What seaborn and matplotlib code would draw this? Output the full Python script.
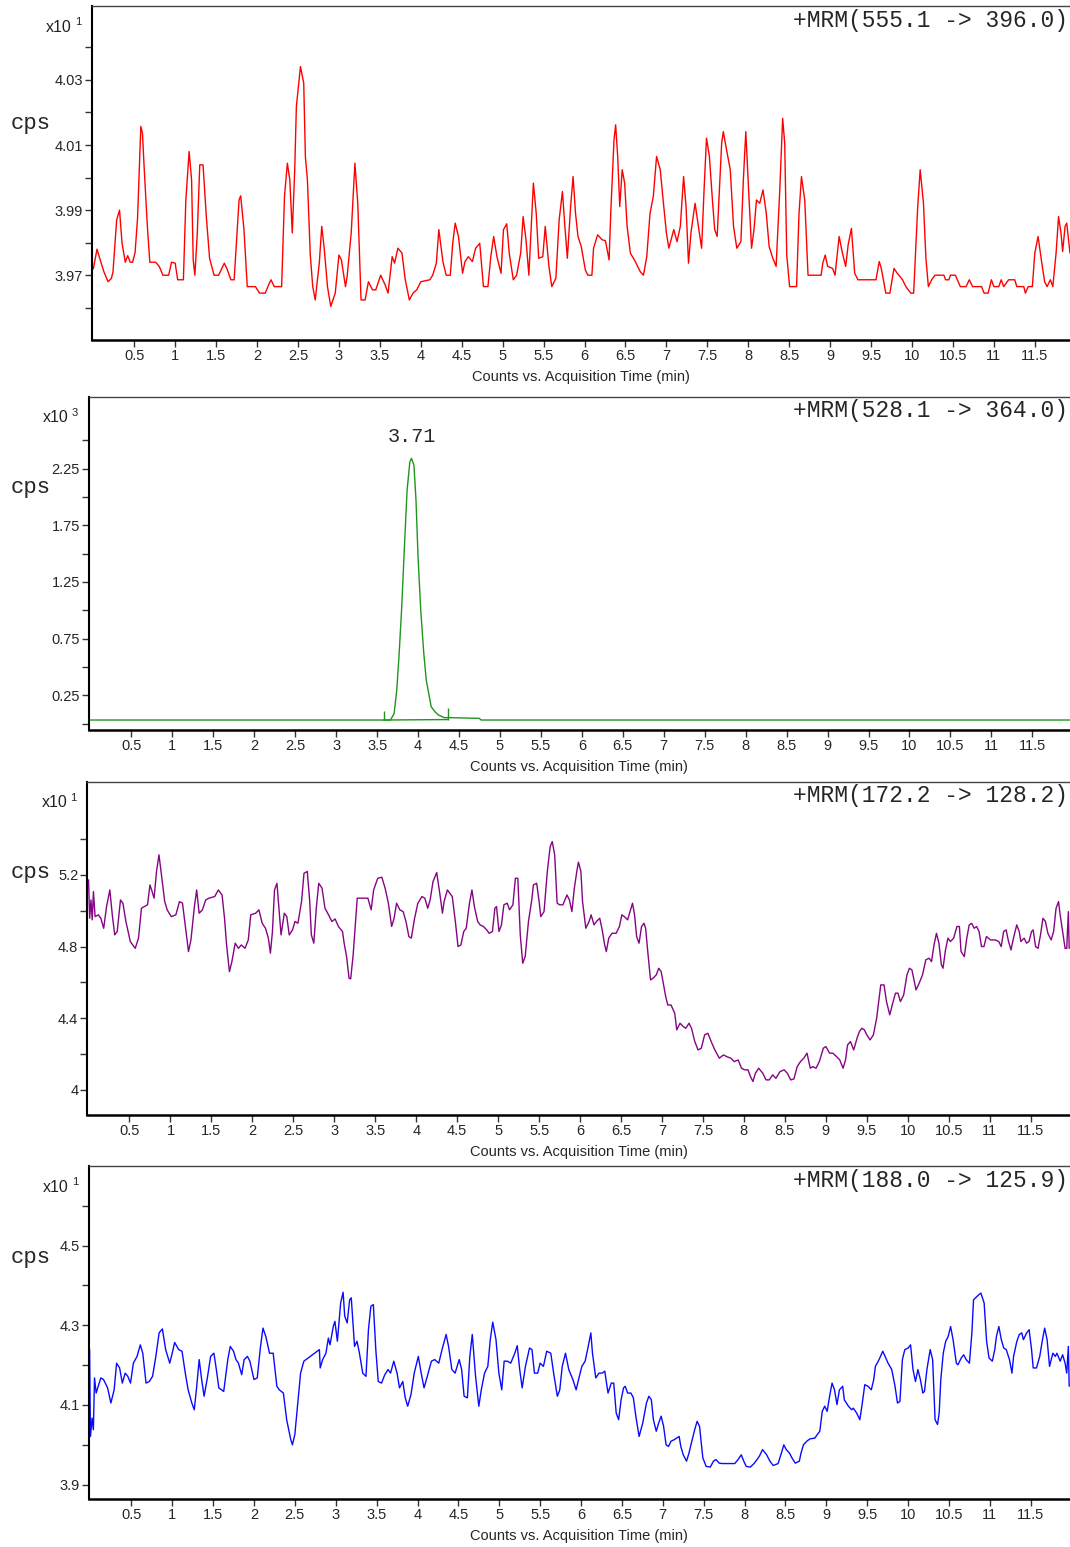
import matplotlib
matplotlib.use("Agg")
import matplotlib.pyplot as plt
import pandas as pd
import seaborn as sns

## Data: (acquisition time in min, counts in axis units)

trace_555 = [
    (0.00, 3.972), (0.045, 3.978), (0.08, 3.975), (0.13, 3.971), (0.18, 3.968), (0.22, 3.969), (0.24, 3.971),
    (0.285, 3.987), (0.32, 3.990), (0.35, 3.980), (0.39, 3.974), (0.42, 3.976), (0.45, 3.974), (0.48, 3.974),
    (0.51, 3.977), (0.54, 3.9875), (0.58, 4.0157), (0.60, 4.0136), (0.62, 4.0034), (0.66, 3.985), (0.69, 3.974),
    (0.76, 3.974), (0.805, 3.9727), (0.85, 3.970), (0.92, 3.970), (0.955, 3.974), (1.00, 3.9737), (1.03, 3.9686),
    (1.10, 3.9686), (1.13, 3.9931), (1.17, 4.008), (1.20, 3.9993), (1.22, 3.9747), (1.24, 3.970), (1.27, 3.983),
    (1.30, 4.0039), (1.34, 4.0039), (1.38, 3.988), (1.42, 3.9752), (1.475, 3.970), (1.53, 3.970), (1.60, 3.9737),
    (1.63, 3.9721), (1.68, 3.9686), (1.72, 3.9686), (1.78, 3.9931), (1.80, 3.9944), (1.84, 3.984), (1.88, 3.9665),
    (1.98, 3.9665), (2.03, 3.9645), (2.10, 3.9645), (2.14, 3.967), (2.17, 3.9686), (2.21, 3.9665), (2.30, 3.9665),
    (2.335, 3.9942), (2.37, 4.0044), (2.40, 3.9993), (2.43, 3.983), (2.46, 4.0024), (2.48, 4.0218), (2.53, 4.0341),
    (2.57, 4.029), (2.59, 4.0065), (2.615, 3.9993), (2.65, 3.9762), (2.68, 3.9665), (2.71, 3.9624), (2.76, 3.9737),
    (2.79, 3.985), (2.82, 3.9783), (2.86, 3.9665), (2.90, 3.9604), (2.955, 3.9645), (3.00, 3.9762), (3.03, 3.9747),
    (3.08, 3.9665), (3.10, 3.9696), (3.15, 3.983), (3.195, 4.0044), (3.23, 3.9921), (3.27, 3.9624), (3.32, 3.9624),
    (3.36, 3.968), (3.41, 3.9655), (3.45, 3.9655), (3.51, 3.970), (3.565, 3.967), (3.60, 3.9645), (3.65, 3.9757),
    (3.68, 3.9737), (3.72, 3.9783), (3.77, 3.9768), (3.81, 3.9686), (3.86, 3.9624), (3.905, 3.9645), (3.95, 3.9655),
    (4.00, 3.968), (4.11, 3.9686), (4.145, 3.970), (4.19, 3.9737), (4.22, 3.984), (4.27, 3.9742), (4.31, 3.970),
    (4.36, 3.970), (4.39, 3.9798), (4.42, 3.986), (4.46, 3.9819), (4.51, 3.9706), (4.54, 3.9742), (4.58, 3.9757),
    (4.63, 3.9742), (4.67, 3.9783), (4.72, 3.9798), (4.765, 3.9665), (4.82, 3.9665), (4.855, 3.9757), (4.89, 3.9819),
    (4.93, 3.9757), (4.98, 3.9706), (5.01, 3.984), (5.05, 3.9858), (5.08, 3.9768), (5.13, 3.9686), (5.17, 3.970),
    (5.22, 3.9768), (5.25, 3.988), (5.285, 3.9809), (5.32, 3.970), (5.375, 3.9983), (5.41, 3.989), (5.44, 3.9752),
    (5.49, 3.9757), (5.52, 3.985), (5.565, 3.9727), (5.60, 3.9665), (5.65, 3.9691), (5.69, 3.987), (5.73, 3.9957),
    (5.76, 3.985), (5.79, 3.9752), (5.83, 3.9911), (5.86, 4.0003), (5.89, 3.989), (5.92, 3.9819), (5.96, 3.9788),
    (6.01, 3.9716), (6.04, 3.970), (6.09, 3.970), (6.11, 3.9783), (6.16, 3.9824), (6.215, 3.9809), (6.255, 3.9806),
    (6.30, 3.9747), (6.32, 3.989), (6.36, 4.0116), (6.38, 4.0162), (6.405, 4.0065), (6.43, 3.9911), (6.46, 4.0024),
    (6.49, 3.9983), (6.52, 3.985), (6.56, 3.9768), (6.62, 3.9742), (6.68, 3.9711), (6.72, 3.970), (6.76, 3.9757),
    (6.80, 3.989), (6.84, 3.9942), (6.88, 4.0065), (6.925, 4.0024), (6.96, 3.9931), (7.00, 3.983), (7.03, 3.9783),
    (7.09, 3.984), (7.13, 3.9803), (7.17, 3.985), (7.21, 4.0003), (7.24, 3.9911), (7.27, 3.9737), (7.30, 3.983),
    (7.35, 3.9921), (7.40, 3.9834), (7.43, 3.9783), (7.46, 3.9962), (7.49, 4.0121), (7.525, 4.0065), (7.565, 3.9921),
    (7.59, 3.984), (7.62, 3.9819), (7.675, 4.0106), (7.695, 4.0141), (7.735, 4.0085), (7.78, 4.0024), (7.82, 3.985),
    (7.86, 3.9783), (7.91, 3.9803), (7.94, 3.9993), (7.97, 4.0141), (8.00, 3.9983), (8.04, 3.9783), (8.07, 3.984),
    (8.10, 3.9931), (8.14, 3.9921), (8.18, 3.9962), (8.22, 3.989), (8.255, 3.9788), (8.30, 3.9752), (8.34, 3.9727),
    (8.385, 3.9962), (8.42, 4.0182), (8.445, 4.0106), (8.47, 3.9762), (8.505, 3.9665), (8.59, 3.9665), (8.62, 3.989),
    (8.65, 4.0003), (8.69, 3.9931), (8.73, 3.970), (8.89, 3.970), (8.91, 3.9737), (8.94, 3.9762), (8.97, 3.9727),
    (9.03, 3.9721), (9.06, 3.970), (9.11, 3.9819), (9.15, 3.9768), (9.19, 3.9727), (9.22, 3.9793), (9.26, 3.9844),
    (9.30, 3.9706), (9.34, 3.9686), (9.56, 3.9686), (9.60, 3.9742), (9.625, 3.9721), (9.68, 3.9645), (9.73, 3.9645),
    (9.78, 3.9721), (9.82, 3.9706), (9.885, 3.9686), (9.925, 3.9665), (9.985, 3.9645), (10.02, 3.9645), (10.07, 3.9911),
    (10.10, 4.0024), (10.14, 3.9921), (10.17, 3.9752), (10.20, 3.9665), (10.24, 3.9686), (10.28, 3.970), (10.39, 3.970),
    (10.41, 3.9686), (10.45, 3.9686), (10.47, 3.970), (10.53, 3.970), (10.59, 3.9665), (10.66, 3.9665), (10.70, 3.9686),
    (10.74, 3.9665), (10.85, 3.9665), (10.88, 3.9645), (10.93, 3.9645), (10.97, 3.9686), (11.00, 3.9665), (11.06, 3.9665),
    (11.09, 3.9686), (11.12, 3.9665), (11.18, 3.9686), (11.255, 3.9686), (11.28, 3.9665), (11.365, 3.9665), (11.385, 3.9645),
    (11.42, 3.9665), (11.47, 3.9665), (11.50, 3.9768), (11.54, 3.9819), (11.58, 3.9747), (11.62, 3.968), (11.65, 3.9665),
    (11.69, 3.9686), (11.72, 3.9665), (11.76, 3.9768), (11.79, 3.988), (11.82, 3.983), (11.84, 3.9773), (11.87, 3.985),
    (11.89, 3.986), (11.93, 3.9768),
]

trace_528 = [
    (-0.02, 0.032), (3.58, 0.032), (3.663, 0.032), (3.708, 0.09), (3.74, 0.297), (3.767, 0.59), (3.80, 1.018),
    (3.83, 1.503), (3.866, 2.06), (3.90, 2.31), (3.92, 2.341), (3.95, 2.28), (3.975, 1.97), (4.00, 1.47),
    (4.033, 1.00), (4.07, 0.62), (4.10, 0.385), (4.13, 0.268), (4.16, 0.15), (4.205, 0.106), (4.25, 0.076),
    (4.32, 0.053), (4.385, 0.053), (4.747, 0.047), (4.77, 0.032), (11.96, 0.032),
]
baseline_528 = [(3.58, 0.032), (4.36, 0.036)]
markers_528 = [(3.58, 0.032, 0.115), (4.36, 0.036, 0.135)]
apex_528 = (3.92, 2.341)
label_528 = "3.71"

trace_172 = [
    (0.00, 5.172), (0.014, 4.958), (0.03, 5.06), (0.045, 4.949), (0.06, 5.107), (0.08, 4.967), (0.12, 4.977),
    (0.15, 4.958), (0.185, 4.902), (0.22, 5.023), (0.26, 5.116), (0.29, 4.977), (0.32, 4.865), (0.35, 4.884),
    (0.39, 5.06), (0.42, 5.042), (0.456, 4.94), (0.51, 4.828), (0.57, 4.79), (0.61, 4.847), (0.646, 5.014),
    (0.68, 5.023), (0.72, 5.033), (0.75, 5.144), (0.77, 5.116), (0.80, 5.07), (0.83, 5.219), (0.86, 5.312),
    (0.89, 5.20), (0.93, 5.051), (0.96, 5.005), (1.01, 4.967), (1.066, 4.977), (1.11, 5.051), (1.147, 5.042),
    (1.18, 4.921), (1.22, 4.772), (1.25, 4.837), (1.29, 5.014), (1.32, 5.116), (1.35, 4.986), (1.39, 5.005),
    (1.43, 5.06), (1.47, 5.07), (1.54, 5.079), (1.585, 5.116), (1.63, 5.088), (1.66, 4.958), (1.685, 4.809),
    (1.72, 4.66), (1.75, 4.716), (1.79, 4.819), (1.83, 4.79), (1.865, 4.809), (1.91, 4.79), (1.95, 4.837),
    (1.98, 4.977), (2.04, 4.986), (2.08, 5.005), (2.12, 4.93), (2.16, 4.902), (2.195, 4.847), (2.22, 4.763),
    (2.245, 4.884), (2.27, 5.116), (2.30, 5.153), (2.33, 4.977), (2.35, 4.865), (2.39, 4.986), (2.42, 4.967),
    (2.45, 4.865), (2.49, 4.893), (2.52, 4.94), (2.556, 4.93), (2.60, 5.051), (2.63, 5.209), (2.67, 5.219),
    (2.70, 5.051), (2.72, 4.865), (2.75, 4.819), (2.78, 5.014), (2.81, 5.153), (2.85, 5.126), (2.886, 5.014),
    (2.93, 4.977), (2.97, 4.94), (3.01, 4.954), (3.05, 4.912), (3.10, 4.884), (3.12, 4.819), (3.15, 4.744),
    (3.18, 4.623), (3.20, 4.62), (3.23, 4.753), (3.28, 5.07), (3.32, 5.07), (3.37, 5.07), (3.41, 5.07),
    (3.45, 5.005), (3.48, 5.116), (3.53, 5.181), (3.58, 5.187), (3.62, 5.126), (3.66, 5.042), (3.70, 4.912),
    (3.73, 4.958), (3.76, 5.042), (3.80, 5.005), (3.84, 4.995), (3.875, 4.94), (3.91, 4.856), (3.94, 4.847),
    (3.98, 4.958), (4.02, 5.042), (4.07, 5.079), (4.105, 5.07), (4.14, 5.014), (4.17, 5.06), (4.205, 5.163),
    (4.25, 5.213), (4.29, 5.088), (4.32, 4.986), (4.34, 5.051), (4.38, 5.116), (4.41, 5.098), (4.44, 5.079),
    (4.48, 4.93), (4.51, 4.80), (4.545, 4.809), (4.58, 4.884), (4.61, 4.902), (4.65, 5.042), (4.68, 5.116),
    (4.71, 5.023), (4.75, 4.94), (4.78, 4.921), (4.82, 4.912), (4.86, 4.893), (4.89, 4.874), (4.93, 4.884),
    (4.96, 5.014), (4.98, 5.023), (5.01, 4.884), (5.04, 4.921), (5.07, 5.033), (5.11, 5.042), (5.14, 5.005),
    (5.18, 5.033), (5.21, 5.181), (5.24, 5.181), (5.27, 4.865), (5.30, 4.707), (5.33, 4.744), (5.37, 4.94),
    (5.41, 5.06), (5.43, 5.144), (5.47, 5.153), (5.50, 5.051), (5.52, 4.967), (5.56, 4.995), (5.60, 5.219),
    (5.635, 5.358), (5.66, 5.386), (5.69, 5.312), (5.72, 5.042), (5.75, 5.033), (5.79, 5.033), (5.84, 5.088),
    (5.87, 5.06), (5.90, 4.995), (5.93, 5.126), (5.96, 5.219), (5.98, 5.271), (6.01, 5.219), (6.03, 5.051),
    (6.07, 4.902), (6.11, 4.94), (6.135, 4.977), (6.17, 4.921), (6.20, 4.94), (6.24, 4.958), (6.27, 4.893),
    (6.30, 4.809), (6.32, 4.772), (6.35, 4.847), (6.39, 4.874), (6.44, 4.874), (6.48, 4.912), (6.51, 4.977),
    (6.54, 4.967), (6.58, 4.949), (6.61, 4.995), (6.64, 5.042), (6.665, 4.977), (6.69, 4.856), (6.72, 4.819),
    (6.75, 4.912), (6.78, 4.93), (6.80, 4.902), (6.83, 4.753), (6.86, 4.614), (6.89, 4.623), (6.93, 4.642),
    (6.96, 4.679), (6.99, 4.66), (7.02, 4.586), (7.045, 4.521), (7.07, 4.474), (7.11, 4.474), (7.155, 4.428),
    (7.18, 4.335), (7.22, 4.372), (7.26, 4.353), (7.29, 4.344), (7.33, 4.372), (7.36, 4.344), (7.40, 4.27),
    (7.44, 4.223), (7.48, 4.233), (7.52, 4.307), (7.56, 4.316), (7.60, 4.27), (7.645, 4.223), (7.70, 4.177),
    (7.75, 4.195), (7.79, 4.186), (7.84, 4.177), (7.88, 4.158), (7.93, 4.167), (7.97, 4.121), (8.01, 4.112),
    (8.05, 4.112), (8.08, 4.074), (8.11, 4.047), (8.14, 4.093), (8.18, 4.121), (8.23, 4.093), (8.27, 4.056),
    (8.31, 4.056), (8.35, 4.084), (8.39, 4.065), (8.44, 4.102), (8.49, 4.112), (8.53, 4.093), (8.57, 4.056),
    (8.61, 4.061), (8.65, 4.13), (8.69, 4.158), (8.73, 4.177), (8.77, 4.205), (8.81, 4.121), (8.84, 4.13),
    (8.88, 4.121), (8.92, 4.158), (8.97, 4.233), (9.00, 4.242), (9.045, 4.205), (9.085, 4.205), (9.13, 4.186),
    (9.17, 4.167), (9.21, 4.121), (9.24, 4.167), (9.265, 4.251), (9.30, 4.27), (9.34, 4.223), (9.38, 4.288),
    (9.41, 4.326), (9.44, 4.344), (9.47, 4.335), (9.50, 4.307), (9.54, 4.279), (9.58, 4.307), (9.62, 4.40),
    (9.645, 4.493), (9.67, 4.586), (9.71, 4.586), (9.74, 4.493), (9.78, 4.419), (9.81, 4.474), (9.85, 4.54),
    (9.88, 4.54), (9.91, 4.493), (9.95, 4.53), (9.99, 4.642), (10.02, 4.679), (10.05, 4.67), (10.08, 4.605),
    (10.10, 4.558), (10.13, 4.586), (10.18, 4.642), (10.22, 4.726), (10.26, 4.735), (10.29, 4.716), (10.32, 4.809),
    (10.35, 4.874), (10.38, 4.819), (10.41, 4.698), (10.43, 4.679), (10.46, 4.781), (10.49, 4.847), (10.52, 4.828),
    (10.56, 4.847), (10.60, 4.912), (10.63, 4.912), (10.65, 4.772), (10.69, 4.744), (10.72, 4.847), (10.75, 4.921),
    (10.78, 4.93), (10.81, 4.902), (10.84, 4.912), (10.87, 4.884), (10.90, 4.80), (10.93, 4.80), (10.96, 4.856),
    (11.01, 4.837), (11.07, 4.837), (11.11, 4.828), (11.14, 4.80), (11.17, 4.884), (11.20, 4.893), (11.23, 4.828),
    (11.26, 4.781), (11.29, 4.847), (11.33, 4.921), (11.36, 4.884), (11.38, 4.828), (11.42, 4.847), (11.45, 4.819),
    (11.48, 4.828), (11.51, 4.884), (11.53, 4.893), (11.56, 4.80), (11.59, 4.79), (11.62, 4.865), (11.65, 4.958),
    (11.68, 4.94), (11.71, 4.874), (11.75, 4.837), (11.78, 4.884), (11.81, 5.014), (11.84, 5.051), (11.86, 4.977),
    (11.89, 4.884), (11.92, 4.79), (11.94, 4.79), (11.96, 4.995), (11.97, 4.79),
]

trace_188 = [
    (-0.01, 4.239), (0.00, 4.021), (0.02, 4.067), (0.036, 4.038), (0.05, 4.168), (0.07, 4.13), (0.095, 4.147),
    (0.127, 4.168), (0.16, 4.164), (0.21, 4.143), (0.25, 4.105), (0.29, 4.138), (0.32, 4.205), (0.357, 4.193),
    (0.39, 4.155), (0.425, 4.18), (0.457, 4.172), (0.49, 4.155), (0.525, 4.205), (0.57, 4.222), (0.61, 4.251),
    (0.64, 4.23), (0.68, 4.155), (0.72, 4.159), (0.76, 4.172), (0.80, 4.222), (0.84, 4.281), (0.88, 4.291),
    (0.92, 4.239), (0.97, 4.205), (1.00, 4.23), (1.03, 4.257), (1.08, 4.239), (1.12, 4.235), (1.16, 4.18),
    (1.195, 4.138), (1.24, 4.105), (1.27, 4.088), (1.30, 4.147), (1.33, 4.214), (1.36, 4.164), (1.39, 4.122),
    (1.43, 4.168), (1.47, 4.222), (1.51, 4.23), (1.54, 4.189), (1.57, 4.143), (1.63, 4.134), (1.68, 4.214),
    (1.71, 4.247), (1.75, 4.235), (1.78, 4.214), (1.81, 4.205), (1.85, 4.176), (1.88, 4.214), (1.92, 4.222),
    (1.95, 4.21), (2.00, 4.164), (2.04, 4.168), (2.08, 4.247), (2.11, 4.293), (2.145, 4.272), (2.19, 4.23),
    (2.235, 4.23), (2.28, 4.147), (2.31, 4.138), (2.36, 4.13), (2.40, 4.063), (2.45, 4.013), (2.47, 4.00),
    (2.50, 4.026), (2.54, 4.113), (2.57, 4.18), (2.61, 4.21), (2.80, 4.239), (2.81, 4.193), (2.84, 4.214),
    (2.88, 4.23), (2.91, 4.268), (2.93, 4.251), (2.97, 4.297), (2.99, 4.31), (3.02, 4.26), (3.06, 4.356),
    (3.09, 4.383), (3.11, 4.323), (3.14, 4.306), (3.17, 4.364), (3.19, 4.369), (3.23, 4.247), (3.26, 4.26),
    (3.29, 4.23), (3.33, 4.18), (3.37, 4.172), (3.40, 4.289), (3.43, 4.348), (3.46, 4.352), (3.49, 4.239),
    (3.52, 4.159), (3.56, 4.155), (3.60, 4.176), (3.64, 4.189), (3.67, 4.18), (3.71, 4.21), (3.75, 4.18),
    (3.78, 4.143), (3.82, 4.159), (3.85, 4.118), (3.88, 4.097), (3.92, 4.126), (3.96, 4.18), (4.01, 4.222),
    (4.045, 4.18), (4.08, 4.143), (4.12, 4.172), (4.17, 4.21), (4.21, 4.214), (4.26, 4.205), (4.30, 4.239),
    (4.35, 4.277), (4.38, 4.247), (4.42, 4.189), (4.46, 4.18), (4.51, 4.214), (4.54, 4.189), (4.57, 4.122),
    (4.61, 4.118), (4.64, 4.222), (4.67, 4.277), (4.71, 4.172), (4.75, 4.097), (4.78, 4.138), (4.82, 4.18),
    (4.86, 4.197), (4.89, 4.264), (4.92, 4.308), (4.96, 4.264), (4.995, 4.18), (5.03, 4.138), (5.06, 4.21),
    (5.10, 4.21), (5.14, 4.205), (5.19, 4.23), (5.22, 4.249), (5.25, 4.189), (5.28, 4.143), (5.32, 4.197),
    (5.37, 4.243), (5.40, 4.239), (5.43, 4.18), (5.47, 4.18), (5.50, 4.205), (5.54, 4.197), (5.58, 4.235),
    (5.63, 4.23), (5.665, 4.18), (5.71, 4.122), (5.74, 4.138), (5.77, 4.197), (5.81, 4.23), (5.85, 4.189),
    (5.90, 4.164), (5.94, 4.138), (5.97, 4.164), (6.01, 4.197), (6.05, 4.21), (6.08, 4.239), (6.12, 4.281),
    (6.14, 4.23), (6.18, 4.168), (6.22, 4.18), (6.26, 4.18), (6.29, 4.185), (6.33, 4.13), (6.37, 4.155),
    (6.40, 4.155), (6.43, 4.08), (6.46, 4.063), (6.49, 4.113), (6.52, 4.143), (6.54, 4.147), (6.57, 4.13),
    (6.61, 4.13), (6.64, 4.118), (6.67, 4.072), (6.71, 4.021), (6.755, 4.055), (6.80, 4.105), (6.83, 4.122),
    (6.86, 4.113), (6.885, 4.063), (6.92, 4.034), (6.95, 4.055), (6.98, 4.072), (7.01, 4.046), (7.04, 4.00),
    (7.07, 3.996), (7.10, 4.009), (7.14, 4.013), (7.20, 4.021), (7.22, 3.996), (7.25, 3.975), (7.29, 3.959),
    (7.32, 3.979), (7.35, 4.005), (7.39, 4.038), (7.42, 4.059), (7.45, 4.046), (7.47, 4.005), (7.49, 3.967),
    (7.53, 3.946), (7.58, 3.944), (7.62, 3.959), (7.65, 3.963), (7.69, 3.954), (7.73, 3.953), (7.88, 3.953),
    (7.92, 3.963), (7.96, 3.975), (7.99, 3.959), (8.02, 3.946), (8.07, 3.944), (8.12, 3.954), (8.18, 3.971),
    (8.22, 3.988), (8.27, 3.975), (8.31, 3.959), (8.35, 3.948), (8.41, 3.953), (8.45, 3.979), (8.48, 4.00),
    (8.51, 3.988), (8.55, 3.979), (8.58, 3.967), (8.62, 3.954), (8.67, 3.959), (8.69, 3.979), (8.72, 4.00),
    (8.76, 4.009), (8.80, 4.015), (8.86, 4.017), (8.89, 4.026), (8.92, 4.034), (8.95, 4.084), (8.98, 4.097),
    (9.01, 4.084), (9.04, 4.122), (9.07, 4.155), (9.10, 4.138), (9.13, 4.101), (9.16, 4.138), (9.20, 4.147),
    (9.22, 4.113), (9.27, 4.097), (9.31, 4.088), (9.33, 4.092), (9.37, 4.08), (9.41, 4.063), (9.44, 4.105),
    (9.47, 4.151), (9.51, 4.147), (9.55, 4.138), (9.58, 4.164), (9.60, 4.197), (9.645, 4.214), (9.69, 4.235),
    (9.71, 4.226), (9.755, 4.205), (9.80, 4.189), (9.84, 4.147), (9.87, 4.105), (9.90, 4.109), (9.93, 4.214),
    (9.96, 4.239), (10.00, 4.243), (10.03, 4.251), (10.06, 4.189), (10.09, 4.159), (10.12, 4.189), (10.15, 4.164),
    (10.18, 4.13), (10.20, 4.134), (10.23, 4.189), (10.27, 4.239), (10.30, 4.214), (10.33, 4.063), (10.36, 4.051),
    (10.38, 4.08), (10.40, 4.164), (10.43, 4.23), (10.46, 4.26), (10.49, 4.272), (10.52, 4.297), (10.55, 4.264),
    (10.59, 4.205), (10.61, 4.201), (10.65, 4.218), (10.68, 4.226), (10.71, 4.214), (10.75, 4.205), (10.78, 4.281),
    (10.80, 4.364), (10.85, 4.374), (10.89, 4.381), (10.93, 4.356), (10.96, 4.26), (10.99, 4.218), (11.03, 4.21),
    (11.06, 4.239), (11.08, 4.272), (11.11, 4.297), (11.14, 4.264), (11.17, 4.243), (11.20, 4.239), (11.24, 4.214),
    (11.27, 4.18), (11.29, 4.222), (11.33, 4.26), (11.36, 4.277), (11.39, 4.281), (11.41, 4.264), (11.45, 4.281),
    (11.48, 4.289), (11.51, 4.239), (11.53, 4.193), (11.57, 4.193), (11.61, 4.222), (11.64, 4.26), (11.67, 4.293),
    (11.70, 4.264), (11.73, 4.197), (11.77, 4.23), (11.80, 4.222), (11.82, 4.23), (11.86, 4.21), (11.89, 4.226),
    (11.92, 4.205), (11.94, 4.18), (11.96, 4.247), (11.97, 4.147),
]

x_ticks = [0.5, 1, 1.5, 2, 2.5, 3, 3.5, 4, 4.5, 5, 5.5, 6, 6.5, 7, 7.5, 8, 8.5, 9, 9.5, 10, 10.5, 11, 11.5]
x_tick_labels = [f"{t:g}" for t in x_ticks]

W, H = 1070, 1547

# left edge, top and bottom of each plot box in pixels, as measured on the screenshot
panels = [
    dict(trace=trace_555, color="#ff0000", title="+MRM(555.1 -> 396.0)", exp="1",
         box=(91.7, 6, 340), xlim=(-0.02, 11.93), ylim=(3.9501, 4.0527),
         yticks=[3.97, 3.99, 4.01, 4.03], ylabels=["3.97", "3.99", "4.01", "4.03"],
         yminor=[3.96, 3.98, 4.00, 4.02, 4.04], cps_dy=118),
    dict(trace=trace_528, color="#1e961e", title="+MRM(528.1 -> 364.0)", exp="3",
         box=(88.8, 396.7, 730), xlim=(-0.02, 11.96), ylim=(-0.056, 2.885),
         yticks=[0.25, 0.75, 1.25, 1.75, 2.25], ylabels=["0.25", "0.75", "1.25", "1.75", "2.25"],
         yminor=[0.0, 0.5, 1.0, 1.5, 2.0, 2.5], cps_dy=91),
    dict(trace=trace_172, color="#850585", title="+MRM(172.2 -> 128.2)", exp="1",
         box=(87.3, 781.7, 1115), xlim=(-0.015, 11.98), ylim=(3.86, 5.72),
         yticks=[4.0, 4.4, 4.8, 5.2], ylabels=["4", "4.4", "4.8", "5.2"],
         yminor=[4.2, 4.6, 5.0, 5.4], cps_dy=91),
    dict(trace=trace_188, color="#0a0aff", title="+MRM(188.0 -> 125.9)", exp="1",
         box=(88.8, 1166, 1499), xlim=(-0.02, 11.98), ylim=(3.864, 4.70),
         yticks=[3.9, 4.1, 4.3, 4.5], ylabels=["3.9", "4.1", "4.3", "4.5"],
         yminor=[4.0, 4.2, 4.4, 4.6], cps_dy=92),
]

sns.set_style("ticks")
plt.rcParams['font.family'] = ['Liberation Sans', 'DejaVu Sans']

fig = plt.figure(figsize=(W / 100, H / 100), dpi=100)

for i, p in enumerate(panels):
    left, top, bottom = p["box"]
    ax = fig.add_axes([left / W, 1 - bottom / H, 1 - left / W, (bottom - top) / H])
    df = pd.DataFrame(p["trace"], columns=["time", "cps"])
    sns.lineplot(data=df, x="time", y="cps", ax=ax, color=p["color"], linewidth=1.0,
                 sort=False, estimator=None)

    if i == 1:
        bdf = pd.DataFrame(baseline_528, columns=["time", "cps"])
        ax.plot(bdf["time"], bdf["cps"], color=p["color"], lw=1.0)
        for t, y0, y1 in markers_528:
            ax.vlines(t, y0, y1, color=p["color"], lw=1.0)
        ax.annotate(label_528, xy=apex_528, xytext=(0, 9), textcoords="offset points",
                    ha="center", va="bottom", family="Liberation Mono", fontsize=14.5)

    ax.set_xlim(*p["xlim"])
    ax.set_ylim(*p["ylim"])
    ax.set_xticks(x_ticks)
    ax.set_xticklabels(x_tick_labels)
    ax.set_yticks(p["yticks"])
    ax.set_yticklabels(p["ylabels"])
    ax.set_yticks(p["yminor"], minor=True)
    ax.tick_params(axis="both", which="both", direction="out", length=5, width=1,
                   color="#333333", labelsize=10.5, pad=1.5)
    ax.set_ylabel("")
    ax.set_xlabel("Counts vs. Acquisition Time (min)", fontsize=10.5, labelpad=5)

    ax.spines["right"].set_visible(False)
    ax.spines["top"].set_color("#444444")
    ax.spines["top"].set_linewidth(1.0)
    ax.spines["left"].set_linewidth(1.5)
    ax.spines["left"].set_color("black")
    ax.spines["bottom"].set_linewidth(1.8)
    ax.spines["bottom"].set_color("black")

    ax.text(0.998, 1 - 14 / (bottom - top), p["title"], transform=ax.transAxes,
            ha="right", va="center", family="Liberation Mono", fontsize=16.5)

    fig.text(11 / W, 1 - (top + p["cps_dy"]) / H, "cps", family="Liberation Mono",
             fontsize=16, ha="left", va="center")
    fig.text((left - 20) / W, 1 - (top + 21) / H, "x10", ha="right", va="center",
             fontsize=11.5, color="#222222")
    fig.text((left - 17) / W, 1 - (top + 16) / H, p["exp"], ha="left", va="center",
             fontsize=8, color="#222222")

fig.savefig("out.png", dpi=100, facecolor="white")
